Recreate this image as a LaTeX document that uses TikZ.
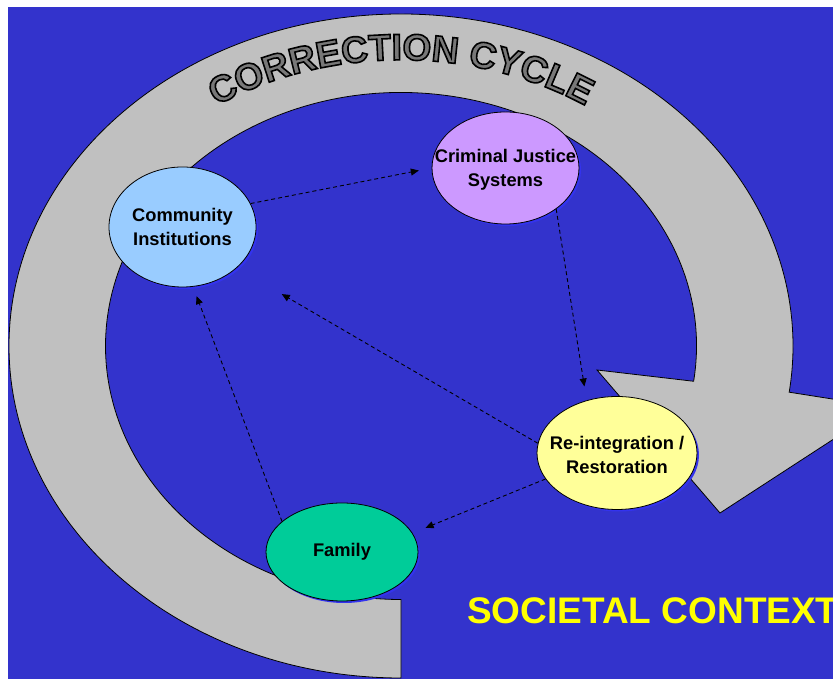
\documentclass[tikz,border=0pt]{standalone}
\usepackage{fontspec}
\setmainfont{Liberation Sans}
\usetikzlibrary{arrows.meta,shapes.geometric,decorations.text,shadows}
\definecolor{bgblue}{HTML}{3333CC}
\definecolor{bandgray}{HTML}{C0C0C0}
\definecolor{titlegray}{HTML}{787878}
\definecolor{cicol}{HTML}{99CCFF}
\definecolor{cjcol}{HTML}{CC99FF}
\definecolor{ricol}{HTML}{FFFF99}
\definecolor{facol}{HTML}{00CC99}
\definecolor{shadowblue}{HTML}{3333EE}
\definecolor{ctxyellow}{HTML}{FFFF00}
\newcommand\titlestyle{\fontsize{37}{40}\selectfont\bfseries\color{titlegray}%
  \special{pdf:literal direct 0 0 0 RG 2 Tr 1.6 w}}
\begin{document}
\begin{tikzpicture}[x=1pt,y=1pt,
  ell/.style={ellipse, draw=black, line width=0.8pt, inner sep=0pt,
    drop shadow={shadow xshift=2pt, shadow yshift=-2pt, fill=shadowblue, opacity=1}},
  lbl/.style={align=center, font=\fontsize{18.3}{24}\selectfont\bfseries, inner sep=0pt, text=black},
  link/.style={draw=black, line width=0.9pt, dash pattern=on 4pt off 3pt,
    -{Triangle[length=8pt,width=7pt]}},
  band/.style={fill=bandgray, draw=black, line width=0.8pt, line join=miter}
]
\useasboundingbox (0,0) rectangle (833,679);
\fill[white] (0,0) rectangle (833,679);
\clip (0,0) rectangle (833,679);
\fill[bgblue] (8,0) rectangle (833,672);

% circular arrow band
\path[band] (401,333) ++(270:392pt and 332pt)
  arc[start angle=270, end angle=-8, x radius=392pt, y radius=332pt]
  -- (883,272) -- (720,166) -- (597,309) -- (693.62,297.72)
  arc[start angle=-8, end angle=270, x radius=295.5pt, y radius=253.5pt]
  -- cycle;

% title (gray fill, black outline via text render mode)
\begin{scope}
\path[decorate, decoration={text along path,
    text={|\titlestyle|CORRECTION CYCLE}, text align=center}]
  (401,333) ++(160:340pt and 286pt)
  arc[start angle=160, end angle=20, x radius=340pt, y radius=286pt];
\end{scope}
\node[inner sep=0pt] (reset) at (0,0) {\special{pdf:literal direct 0 Tr}};

% ellipses
\node[ell, fill=cicol, minimum width=147pt, minimum height=120pt] (ci) at (182.5,452) {};
\node[ell, fill=cjcol, minimum width=147pt, minimum height=112pt] (cj) at (505.5,511) {};
\node[ell, fill=ricol, minimum width=160pt, minimum height=113pt] (ri) at (617,226) {};
\node[ell, fill=facol, minimum width=152pt, minimum height=98pt] (fa) at (342,127) {};

\node[lbl] (cit) at (182.5,452) {Community\\Institutions};
\node[lbl] (cjt) at (505.5,509) {Criminal Justice\\Systems};
\node[lbl] (rit) at (617,224) {Re-integration /\\Restoration};
\node[lbl] (fat) at (342,127) {Family};

% connectors
\draw[link, shorten >=13pt] (ci.19) -- (cj.west);
\draw[link, shorten >=14pt] (cj.-39) -- (ri.120);
\draw[link, shorten >=52pt] (ri.173) -- (ci.-37);
\draw[link, shorten >=14pt] (ri.200) -- (fa.15);
\draw[link, shorten >=10pt] (fa.153) -- (ci.-80);

% societal context
\node[anchor=base west, inner sep=0pt, text=ctxyellow,
  font=\fontsize{37}{40}\selectfont\bfseries] (ctx) at (467,55) {SOCIETAL CONTEXT};
\end{tikzpicture}
\end{document}
